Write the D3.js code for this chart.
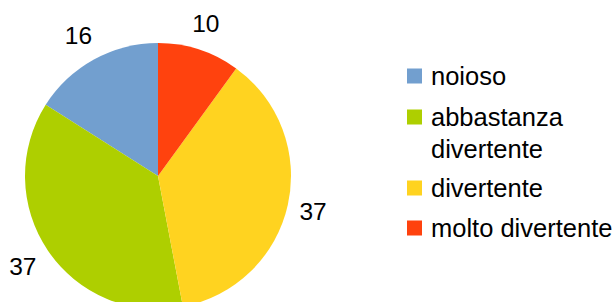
<!DOCTYPE html>
<html>
<head>
<meta charset="utf-8">
<script src="https://cdn.jsdelivr.net/npm/d3@7"></script>
<style>
  body { margin: 0; background: #fff; }
  svg { display: block; font-family: "Liberation Sans", Arial, sans-serif; }
</style>
</head>
<body>
<div id="chart"></div>
<script>
// Categories in legend order (drawn counter-clockwise from 12 o'clock)
const categories = ["noioso", "abbastanza divertente", "divertente", "molto divertente"];
const values = [16, 37, 37, 10];
const colors = ["#729fcf", "#aecf00", "#ffd320", "#ff420e"];
// legend lines (wrapped like the original)
const legendLines = [["noioso"], ["abbastanza", "divertente"], ["divertente"], ["molto divertente"]];

const width = 616, height = 302;
const cx = 158, cy = 176, radius = 133;

const svg = d3.select("#chart").append("svg")
  .attr("width", width)
  .attr("height", height);

const color = d3.scaleOrdinal().domain(categories).range(colors);

// pie runs counter-clockwise, starting at the top
const pie = d3.pie().sort(null).startAngle(0).endAngle(-2 * Math.PI);
const arcs = pie(values);

const arc = d3.arc().innerRadius(0).outerRadius(radius);
const labelArc = d3.arc().innerRadius(161).outerRadius(161);

const g = svg.append("g").attr("transform", `translate(${cx},${cy})`);

g.selectAll("path.slice")
  .data(arcs)
  .join("path")
  .attr("class", "slice")
  .attr("d", arc)
  .attr("fill", (d, i) => color(categories[i]));

// value labels outside the pie
g.selectAll("text.value")
  .data(arcs)
  .join("text")
  .attr("class", "value")
  .attr("transform", d => `translate(${labelArc.centroid(d)})`)
  .attr("text-anchor", "middle")
  .attr("dx", -2)
  .attr("dy", "0.36em")
  .attr("font-size", 24.5)
  .attr("fill", "#000")
  .text(d => d.value);

// legend
const legendX = 407;
const rowY = [76, 117, 188, 228]; // square centres
const legend = svg.append("g");

const rows = legend.selectAll("g.row")
  .data(categories)
  .join("g")
  .attr("class", "row")
  .attr("transform", (d, i) => `translate(${legendX},${rowY[i]})`);

rows.append("rect")
  .attr("x", 0)
  .attr("y", -7.5)
  .attr("width", 15)
  .attr("height", 15)
  .attr("fill", d => color(d));

rows.append("text")
  .attr("x", 24)
  .attr("y", 9)
  .attr("font-size", 25.5)
  .attr("fill", "#000")
  .selectAll("tspan")
  .data((d, i) => legendLines[i])
  .join("tspan")
  .attr("x", 24)
  .attr("dy", (d, j) => j === 0 ? 0 : 32)
  .text(d => d);
</script>
</body>
</html>
